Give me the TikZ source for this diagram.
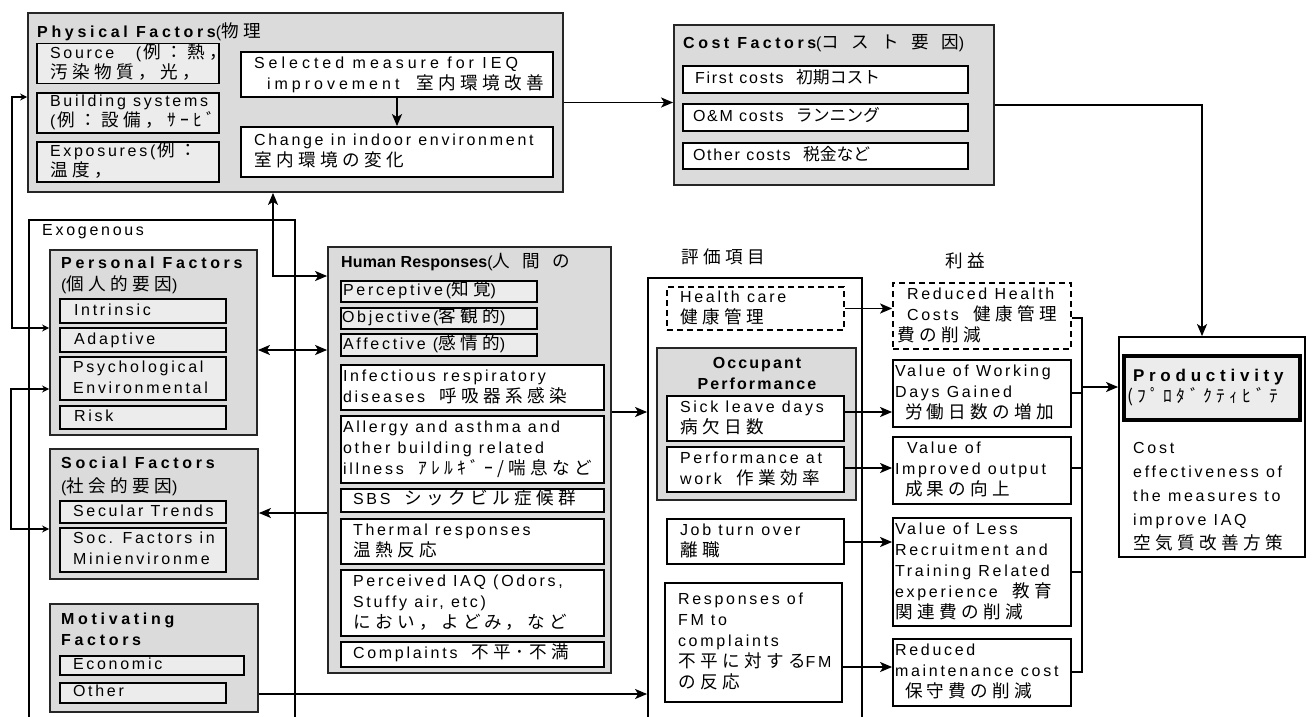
\documentclass[tikz,border=0pt]{standalone}
\usepackage{fontspec}
\setmainfont{Liberation Sans}[LetterSpace=17]
\newfontfamily\jpf{Noto Sans CJK JP}[Scale=1.1,LetterSpace=25]
\newfontfamily\jpnf{Noto Sans CJK JP}[Scale=1.05]
\newfontfamily\jpwf{Noto Sans CJK JP}[Scale=1.1,LetterSpace=70]
\newfontfamily\ttlA{Liberation Sans}[LetterSpace=23]
\newfontfamily\ttlB{Liberation Sans}[LetterSpace=1]
\newfontfamily\ttlC{Liberation Sans}[LetterSpace=22]
\newfontfamily\ttlD{Liberation Sans}[LetterSpace=13]
\newfontfamily\ttlE{Liberation Sans}[LetterSpace=28]
\newfontfamily\costf{Liberation Sans}[LetterSpace=11]
\newfontfamily\widef{Liberation Sans}[LetterSpace=25]
\newcommand\jp[1]{{\jpf #1}}
\newcommand\jpn[1]{{\jpnf #1}}
\newcommand\jpw[1]{{\jpwf #1}}
\newcommand\mainsz{\fontsize{16}{21}\selectfont}
\newcommand\physsz{\fontsize{16}{17.5}\selectfont}
\newcommand\tightsz{\fontsize{16}{18}\selectfont}
\usetikzlibrary{arrows.meta}
\definecolor{gA}{gray}{0.86}
\definecolor{gB}{gray}{0.925}
% \mybox[pad]{name}{x1}{y1}{x2}{y2}{style}{lines}
\newcommand\mybox[8][5]{%
  \pgfmathsetmacro\myW{#5-#3}%
  \pgfmathsetmacro\myH{#6-#4}%
  \pgfmathsetmacro\myT{#5-#3-2*#1}%
  \node[#7, inner xsep=#1pt, inner ysep=0pt, minimum width=\myW pt, minimum height=\myH pt]
    (#2) at ({(#3+#5)/2},{(#4+#6)/2})
    {\makebox[\myT pt][l]{\begin{tabular}{@{}l@{}}#8\end{tabular}}};}
\tikzset{
  bx/.style={draw=black, line width=1.8pt, fill=white},
  grp/.style={draw=black!85, line width=1.8pt, fill=gA},
  subb/.style={bx, fill=gB},
  dsh/.style={bx, dash pattern=on 6pt off 4pt},
  ttl/.style={anchor=west, inner sep=0pt},
  con/.style={line width=1.8pt},
  arr/.style={con, -{Stealth[length=12pt,width=10pt,inset=3pt]}},
  dbl/.style={con, {Stealth[length=12pt,width=10pt,inset=3pt]}-{Stealth[length=12pt,width=10pt,inset=3pt]}},
  sarr/.style={con, {Stealth[length=7pt,width=7pt]}-{Stealth[length=7pt,width=7pt]}},
}
\begin{document}
\begin{tikzpicture}[x=1pt,y=-1pt, every node/.append style={font=\mainsz}]
\useasboundingbox (0,0) rectangle (1314,716);

% ---------- Physical factors
\mybox{phys}{28}{13}{563}{192}{grp}{}
\node[ttl] (physT) at (37,32) {{\ttlA\bfseries Physical Factors}(\jp{物理}};
\mybox[13]{src}{37}{44}{219}{83}{subb,font=\physsz}{Source\ \ \ (\hspace{2pt}\jp{例：熱，}\\\jp{汚染物質，光，}}
\mybox[13]{bld}{37}{93}{219}{133}{subb,font=\physsz}{Building systems\\(\hspace{2pt}\jp{例：設備，ｻｰﾋﾞ}}
\mybox[13]{expo}{37}{142}{219}{182}{subb,font=\physsz}{Exposures(\hspace{2pt}\jp{例：}\\\jp{温度，}}
\mybox[13]{sel}{241}{52}{553}{97}{bx}{\widef Selected measure for IEQ\\\widef\hspace{13pt}improvement\ \ \jp{室内環境改善}}
\mybox[13]{chg}{241}{127}{553}{177}{bx}{Change in indoor environment\\\jp{室内環境の変化}}

% ---------- Cost factors
\mybox{cost}{674}{25}{994}{185}{grp}{}
\node[ttl] (costT) at (683,43) {{\ttlC\bfseries Cost Factors}(\jpw{コスト要因})};
\mybox[12]{c1}{683}{66}{968}{93}{bx}{\costf First costs\ \ \jpn{初期コスト}}
\mybox[10]{c2}{683}{104}{968}{131}{bx}{\costf O\&M costs\ \ \jpn{ランニング}}
\mybox[10]{c3}{683}{143}{968}{169}{bx}{\costf Other costs\ \ \jpn{税金など}}

% ---------- Exogenous
\mybox{exog}{29}{220}{295}{730}{bx}{}
\node[ttl] (exogL) at (42,232) {Exogenous};

\mybox{pers}{50}{250}{257}{435}{grp}{}
\node[ttl] (persT) at (61,263) {\ttlA\bfseries Personal Factors};
\node[ttl] (persT2) at (61,285) {(\jp{個人的要因})};
\mybox[14]{p1}{60}{299}{226}{323}{subb}{Intrinsic}
\mybox[14]{p2}{60}{328}{226}{352}{subb}{Adaptive}
\mybox[13]{p3}{60}{357}{226}{400}{subb}{Psychological\\Environmental}
\mybox[14]{p4}{60}{406}{226}{429}{subb}{Risk}

\mybox{soc}{50}{449}{258}{579}{grp}{}
\node[ttl] (socT) at (61,463) {\ttlA\bfseries Social Factors};
\node[ttl] (socT2) at (61,487) {(\jp{社会的要因})};
\mybox[13]{s1}{60}{501}{226}{523}{subb}{Secular Trends}
\mybox[13]{s2}{60}{528}{226}{572}{subb}{Soc. Factors in\\Minienvironme}

\mybox{motiv}{50}{604}{258}{712}{grp}{}
\node[ttl] (motT) at (61,620) {\ttlA\bfseries Motivating};
\node[ttl] (motT2) at (61,640) {\ttlA\bfseries Factors};
\mybox[13]{m1}{60}{656}{244}{675}{subb,font=\tightsz}{Economic}
\mybox[13]{m2}{60}{683}{226}{703}{subb,font=\tightsz}{Other}

% ---------- Human responses
\mybox{human}{328}{247}{611}{673}{grp}{}
\node[ttl] (humT) at (341,262) {{\ttlB\bfseries Human Responses}(\jpw{人間の}};
\mybox[2]{h1}{341}{281}{537}{302}{subb}{Perceptive(\jp{知覚})}
\mybox[1]{h2}{341}{308}{537}{329}{subb}{Objective(\jp{客観的})}
\mybox[2]{h3}{341}{334}{537}{356}{subb}{Affective (\jp{感情的})}
\mybox[2]{h4}{341}{365}{604}{410}{bx}{Infectious respiratory\\diseases\ \ \jp{呼吸器系感染}}
\mybox[2]{h5}{341}{416}{604}{483}{bx}{Allergy and asthma and\\other building related\\illness\ \ \jp{ｱﾚﾙｷﾞｰ/喘息など}}
\mybox[12]{h6}{341}{489}{604}{512}{bx}{SBS\ \ \jp{シックビル症候群}}
\mybox[12]{h7}{341}{519}{604}{564}{bx}{Thermal responses\\\jp{温熱反応}}
\mybox[12]{h8}{341}{570}{604}{636}{bx}{Perceived IAQ (Odors,\\Stuffy air, etc)\\\jp{におい，よどみ，など}}
\mybox[12]{h9}{341}{642}{604}{667}{bx}{Complaints\ \ \jp{不平･不満}}

% ---------- Evaluation items
\node (evalL) at (723,257) {\jp{評価項目}};
\mybox{eval}{648}{278}{862}{730}{bx}{}
\mybox[13]{hc}{667}{287}{844}{330}{dsh}{Health care\\\jp{健康管理}}
\mybox{occ}{657}{348}{856}{500}{grp}{}
\node[align=center, inner sep=0pt] (occT) at (757,373) {\ttlD\bfseries Occupant\\\ttlD\bfseries Performance};
\mybox[13]{sl}{667}{396}{844}{441}{bx}{Sick leave days\\\jp{病欠日数}}
\mybox[13]{pw}{667}{447}{844}{492}{bx}{Performance at\\work\ \ \jp{作業効率}}
\mybox[13]{job}{667}{519}{844}{564}{bx}{Job turn over\\\jp{離職}}
\mybox[13]{fm}{665}{583}{842}{702}{bx}{Responses of\\FM to\\complaints\\\jp{不平に対する}FM\\\jp{の反応}}

% ---------- Benefits
\node (benL) at (965,261) {\jp{利益}};
\mybox[14]{b1}{893}{283}{1071}{349}{dsh}{Reduced Health\\Costs\ \ \jp{健康管理}\\\hspace{-10pt}\jp{費の削減}}
\mybox[2]{b2}{893}{360}{1071}{427}{bx}{Value of Working\\Days Gained\\\hspace{10pt}\jp{労働日数の増加}}
\mybox[2]{b3}{893}{437}{1071}{504}{bx}{\hspace{12pt}Value of\\Improved output\\\hspace{10pt}\jp{成果の向上}}
\mybox[2]{b4}{893}{518}{1071}{626}{bx}{Value of Less\\Recruitment and\\Training Related\\experience\ \ \jp{教育}\\\jp{関連費の削減}}
\mybox[2]{b5}{893}{639}{1071}{706}{bx}{Reduced\\maintenance cost\\\hspace{10pt}\jp{保守費の削減}}

% ---------- Productivity
\mybox{prod}{1119}{337}{1305}{557}{bx}{}
\mybox[9]{prodT}{1124}{356}{1300}{420}{subb,line width=4.5pt}{{\ttlE\bfseries\fontsize{17}{21}\selectfont Productivity}\\\hspace{-6pt}\jp{(ﾌﾟﾛﾀﾞｸﾃｨﾋﾞﾃ}}
\node[anchor=north west, inner sep=0pt, font=\fontsize{16}{24}\selectfont] (prodD) at (1133,436)
  {\begin{tabular}{@{}l@{}}Cost\\effectiveness of\\the measures to\\improve IAQ\\\jp{空気質改善方策}\end{tabular}};

% ---------- Connectors
\draw[arr] (sel) -- (chg);
\draw[arr] (phys.east) -- (phys.east -| cost.west);
\draw[arr] (cost.east) -| ([xshift=-10pt]prod.north);
\draw[dbl] (phys.south -| 273,0) |- (human.west |- 0,276);
\draw[sarr] (phys.west |- 0,97) -| (12,328) -- (pers.west |- 0,328);
\draw[sarr] (pers.west |- 0,389) -| (11,529) -- (soc.west |- 0,529);
\draw[dbl] (pers.east |- 0,350) -- (human.west |- 0,350);
\draw[arr] (human.west |- 0,513) -- (soc.east |- 0,513);
\draw[arr] (motiv.east |- 0,694) -- (eval.west |- 0,694);
\draw[arr] (human.east |- 0,412) -- (eval.west |- 0,412);
\draw[arr] (hc.east) -- (hc.east -| b1.west);
\draw[arr] (sl.east |- 0,412) -- (b2.west |- 0,412);
\draw[arr] (pw.east |- 0,468) -- (b3.west |- 0,468);
\draw[arr] (job.east |- 0,542) -- (b4.west |- 0,542);
\draw[arr] (fm.east |- 0,667) -- (b5.west |- 0,667);
\coordinate (busT) at (1082,318);
\coordinate (busB) at (1082,672);
\coordinate (busA) at (1082,387);
\draw[con] (b1.east |- busT) -- (busT) -- (busB) -- (b5.east |- busB);
\draw[con] (b2.east |- 0,393) -- (busT |- 0,393);
\draw[con] (b3.east |- 0,468) -- (busT |- 0,468);
\draw[con] (b4.east |- 0,572) -- (busT |- 0,572);
\draw[arr] (busA) -- (prod.west |- busA);
\end{tikzpicture}
\end{document}
